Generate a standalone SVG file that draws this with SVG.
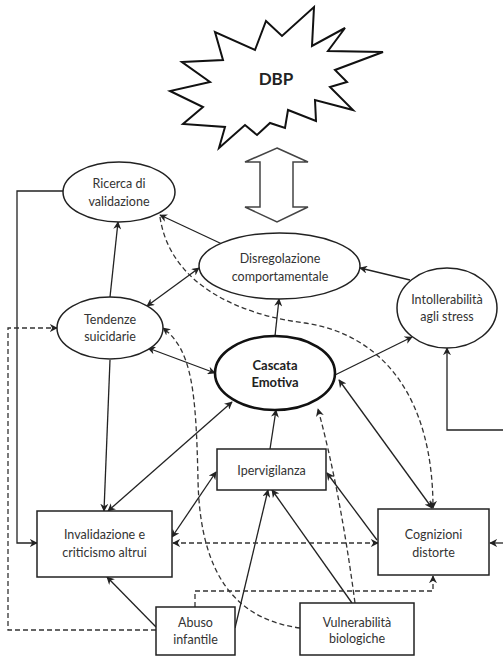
<svg xmlns="http://www.w3.org/2000/svg" width="503" height="656" viewBox="0 0 503 656">
<style>
.n{fill:#fff;stroke:#222;stroke-width:1.5}
.b{fill:#fff;stroke:#111;stroke-width:2.6}
.t{font-family:Lato,"Open Sans","Liberation Sans",sans-serif;font-size:12.5px;fill:#333;text-anchor:middle}
.tb{font-family:Lato,"Open Sans","Liberation Sans",sans-serif;font-size:13px;font-weight:bold;fill:#222;text-anchor:middle}
.c{fill:none;stroke:#222;stroke-width:1.3}
.d{fill:none;stroke:#333;stroke-width:1.3;stroke-dasharray:5,3}
</style>
<defs>
<marker id="a" viewBox="0 0 10 10" refX="9" refY="5" markerWidth="8" markerHeight="8" markerUnits="userSpaceOnUse" orient="auto-start-reverse">
<path d="M0,0 L10,5 L0,10 L3,5 z" fill="#222"/>
</marker>
</defs>
<rect width="503" height="656" fill="#fff"/>
<g id="dbp">
<polygon points="182,62 223,60 215,32 255,50 266,21 282,36 314,7 312,46 345,28 328,51 383,52 335,70 347,82 330,87 353,110 315,100 316,121 288,110 285,128 270,123 257,135 245,125 219,148 225,127 183,124 203,107 170,91 210,82" fill="#fff" stroke="#111" stroke-width="2"/>
<text class="tb" x="276" y="85" style="font-size:17px">DBP</text>
</g>
<g id="bigarrow">
<polygon points="277,148 308,162 293,162 293,207 308,207 277,222 245,207 260,207 260,162 245,162" fill="#fff" stroke="#444" stroke-width="1.5"/>
</g>
<g id="connectors">
<path class="c" d="M63,191 H17 V543 H37" marker-end="url(#a)"/>
<path class="c" d="M110,297 L118,222" marker-end="url(#a)"/>
<path class="c" d="M222,244 L160,215" marker-end="url(#a)"/>
<path class="c" d="M147,306 L199,268" marker-start="url(#a)" marker-end="url(#a)"/>
<path class="d" d="M160,217 C170,285 240,315 305,323 C385,335 433,400 433,508" marker-end="url(#a)"/>
<path class="d" d="M156,630 H8 V328 H57" marker-end="url(#a)"/>
<path class="d" d="M300,628 C240,620 200,580 198,480 C196,390 192,350 163,328" marker-end="url(#a)"/>
<path class="c" d="M148,348 L215,373" marker-start="url(#a)" marker-end="url(#a)"/>
<path class="c" d="M110,360 L104,511" marker-end="url(#a)"/>
<path class="c" d="M108,511 L232,402" marker-start="url(#a)" marker-end="url(#a)"/>
<path class="c" d="M270,449 L276,410" marker-end="url(#a)"/>
<path class="c" d="M275,336 L279,299" marker-end="url(#a)"/>
<path class="c" d="M410,280 L360,268" marker-end="url(#a)"/>
<path class="c" d="M335,375 L412,337" marker-end="url(#a)"/>
<path class="c" d="M503,430 H447 V348" marker-end="url(#a)"/>
<path class="c" d="M339,380 L432,508" marker-start="url(#a)" marker-end="url(#a)"/>
<path class="d" d="M355,603 Q340,490 318,409" marker-end="url(#a)"/>
<path class="c" d="M352,603 L272,490" marker-end="url(#a)"/>
<path class="c" d="M235,628 L268,490" marker-end="url(#a)"/>
<path class="c" d="M156,627 L107,577" marker-end="url(#a)"/>
<path class="c" d="M172,537 L216,472" marker-start="url(#a)" marker-end="url(#a)"/>
<path class="d" d="M173,543 H378" marker-start="url(#a)" marker-end="url(#a)"/>
<path class="c" d="M377,540 L327,473" marker-end="url(#a)"/>
<path class="d" d="M195,607 V591 H433 V576" marker-end="url(#a)"/>
<path class="c" d="M503,543 H490" marker-end="url(#a)"/>
</g>
<g id="ricerca">
<ellipse class="n" cx="119" cy="192" rx="56" ry="30"/>
<text class="t" x="119" y="188">Ricerca di</text>
<text class="t" x="119" y="206">validazione</text>
</g>
<g id="disregolazione">
<ellipse class="n" cx="279.5" cy="266" rx="80.5" ry="33"/>
<text class="t" x="280" y="263">Disregolazione</text>
<text class="t" x="280" y="281">comportamentale</text>
</g>
<g id="intollerabilita">
<ellipse class="n" cx="447" cy="308" rx="50" ry="40"/>
<text class="t" x="447" y="304">Intollerabilità</text>
<text class="t" x="447" y="321">agli stress</text>
</g>
<g id="tendenze">
<ellipse class="n" cx="110" cy="328" rx="53" ry="31"/>
<text class="t" x="110" y="324">Tendenze</text>
<text class="t" x="110" y="341">suicidarie</text>
</g>
<g id="cascata">
<ellipse class="b" cx="275" cy="373" rx="60" ry="37"/>
<text class="tb" x="275" y="370">Cascata</text>
<text class="tb" x="275" y="387">Emotiva</text>
</g>
<g id="ipervigilanza">
<rect class="n" x="217" y="449" width="109" height="41"/>
<text class="t" x="271.5" y="475">Ipervigilanza</text>
</g>
<g id="invalidazione">
<rect class="n" x="37" y="511" width="135" height="66"/>
<text class="t" x="104.5" y="539">Invalidazione e</text>
<text class="t" x="104.5" y="557">criticismo altrui</text>
</g>
<g id="cognizioni">
<rect class="n" x="378" y="509" width="111" height="66"/>
<text class="t" x="433.5" y="539">Cognizioni</text>
<text class="t" x="433.5" y="557">distorte</text>
</g>
<g id="abuso">
<rect class="n" x="156" y="607" width="79" height="48"/>
<text class="t" x="195.5" y="627">Abuso</text>
<text class="t" x="195.5" y="644">infantile</text>
</g>
<g id="vulnerabilita">
<rect class="n" x="300" y="603" width="114" height="52"/>
<text class="t" x="357" y="627">Vulnerabilità</text>
<text class="t" x="357" y="643">biologiche</text>
</g>
</svg>
